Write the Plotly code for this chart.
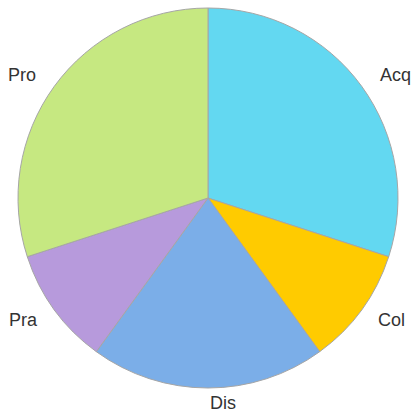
import math
import plotly.graph_objects as go

categories = ["Acq", "Col", "Dis", "Pra", "Pro"]
values = [30, 10, 20, 10, 30]
colors = ["#63D8F1", "#FFCB00", "#7BAEE8", "#B79ADC", "#C6E881"]

# plot area geometry (px)
PLOT_W = 380
PLOT_H = 380
LABEL_R = 210  # px from centre to label anchor

fig = go.Figure(go.Pie(
    labels=categories,
    values=values,
    sort=False,
    direction="clockwise",
    rotation=0,
    marker=dict(colors=colors, line=dict(color="#a6a6a6", width=1)),
    textinfo="none",
    hoverinfo="label+value",
    showlegend=False,
))

# outside labels placed along each slice's mid angle (computed from the values)
total = sum(values)
cum = 0
for cat, v in zip(categories, values):
    mid = (cum + v / 2) / total * 2 * math.pi
    cum += v
    ux = math.sin(mid)
    uy = math.cos(mid)  # paper y points up
    r = LABEL_R - 5 * max(0.0, -uy) ** 2
    fig.add_annotation(
        text=cat,
        xref="paper", yref="paper",
        x=0.5 + r * ux / PLOT_W,
        y=0.5 + r * uy / PLOT_H,
        xanchor="left" if ux >= -1e-9 else "right",
        yanchor="middle",
        showarrow=False,
        font=dict(family="Liberation Sans, Arial, sans-serif", size=18, color="#333333"),
    )

fig.update_layout(
    width=412, height=414,
    margin=dict(l=18, r=14, t=8, b=26),
    paper_bgcolor="white",
    plot_bgcolor="white",
)

fig.write_html(
    "out.html",
    config={"displayModeBar": False},
    post_script="document.body.style.margin='0';document.body.style.overflow='hidden';",
)
